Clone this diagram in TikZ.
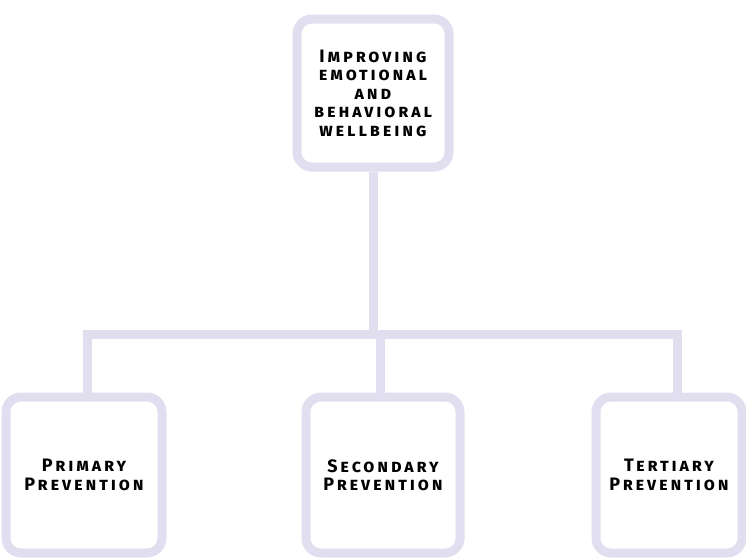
\documentclass[tikz,border=0pt]{standalone}
\usepackage{fontspec}
\setmainfont{Fira Sans}
\newfontfamily\boxfont{Fira Sans}[UprightFont = * Bold, Letters = SmallCaps, LetterSpace = 16]
\usepackage{tikz}

\definecolor{lavender}{RGB}{225,222,239}

\begin{document}
\begin{tikzpicture}[x = 1pt, y = -1pt,
    box/.style = {draw = lavender, line width = 9pt, rounded corners = 15pt,
                  align = center, inner sep = 0pt,
                  font = \boxfont\fontsize{18}{18.5}\selectfont},
    link/.style = {draw = lavender, line width = 9pt}]
            \useasboundingbox (0,0) rectangle (746,558);

            \node[box, minimum width = 152pt, minimum height = 148pt]
            (top) at (373,93) {Improving\\emotional\\and\\behavioral\\wellbeing};

            \node[box, minimum width = 156pt, minimum height = 156pt]
            (prim) at (84,475) {Primary\\Prevention};
            \node[box, minimum width = 154pt, minimum height = 156pt]
            (sec) at (383,475) {Secondary\\Prevention};
            \node[box, minimum width = 146pt, minimum height = 156pt]
            (tert) at (669,475) {Tertiary\\Prevention};

            \coordinate (bar) at (378,334);

            \draw[link] (top.south) -- (top.south |- bar);
            \draw[link] ([xshift = 3pt]prim.north) |- (bar) -| ([xshift = 8pt]tert.north);
            \draw[link] ([xshift = -3pt]sec.north) -- ([xshift = -3pt]sec.north |- bar);
        \end{tikzpicture}
\end{document}
